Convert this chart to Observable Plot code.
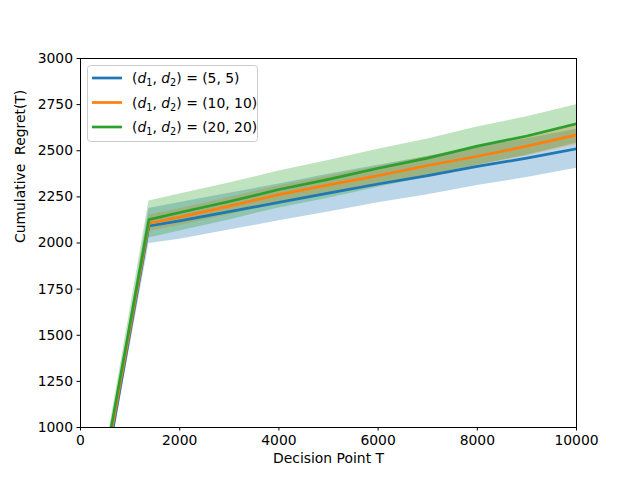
<!DOCTYPE html>
<html><head><meta charset="utf-8">
<script src="https://cdn.jsdelivr.net/npm/d3@7"></script>
<script src="https://cdn.jsdelivr.net/npm/@observablehq/plot@0.6"></script>
<style>body{margin:0;background:#fff} svg{font-family:"DejaVu Sans"}</style>
</head><body><div id="chart"></div>
<script>
const T = [0, 1380, 2000, 3000, 4000, 5000, 6000, 7000, 8000, 9000, 10000];
const blueMean   = [0,  2092, 2120, 2170, 2220, 2270, 2320, 2365, 2415, 2460, 2511];
const blueHalf   = [10,   95,  100,  100,  100,  102,  102,  104,  104,  105,  106];
const orangeMean = [45, 2107, 2140, 2200, 2262, 2315, 2365, 2420, 2470, 2525, 2586];
const orangeHalf = [10,   45,   45,   47,   48,   48,   50,   50,   50,   52,   52];
const greenMean  = [85, 2127, 2165, 2225, 2290, 2345, 2405, 2460, 2525, 2580, 2646];
const greenHalf  = [10,  100,  100,  100,  100,  102,  103,  104,  104,  104,  104];
const labels = ["(5, 5)", "(10, 10)", "(20, 20)"];
const colors = ["#1f77b4", "#ff7f0e", "#2ca02c"];
const xTicks = [0, 2000, 4000, 6000, 8000, 10000];
const yTicks = [1000, 1250, 1500, 1750, 2000, 2250, 2500, 2750, 3000];

const series = [
  {key: labels[0], mean: blueMean, half: blueHalf},
  {key: labels[1], mean: orangeMean, half: orangeHalf},
  {key: labels[2], mean: greenMean, half: greenHalf}
];
const rows = series.flatMap(s => T.map((t, i) => ({
  t, key: s.key, y: s.mean[i], lo: s.mean[i] - s.half[i], hi: s.mean[i] + s.half[i]
})));

const svg = Plot.plot({
  width: 640, height: 480,
  marginLeft: 80, marginRight: 64, marginTop: 58, marginBottom: 53,
  style: {fontFamily: "DejaVu Sans", fontSize: "13.9px", color: "black", background: "white"},
  x: {domain: [0, 10000]},
  y: {domain: [1000, 3000]},
  color: {domain: labels, range: colors},
  marks: [
    Plot.areaY(rows, {x: "t", y1: "lo", y2: "hi", z: "key", fill: "key", fillOpacity: 0.3, clip: true}),
    Plot.line(rows, {x: "t", y: "y", z: "key", stroke: "key", strokeWidth: 2.7, clip: true}),
    Plot.frame({stroke: "black", strokeWidth: 1}),
    Plot.axisX({ticks: xTicks, tickFormat: d => String(d), tickSize: 3.5, tickPadding: 4, label: null, fontSize: 13.9}),
    Plot.axisY({ticks: yTicks, tickFormat: d => String(d), tickSize: 3.5, tickPadding: 4, label: null, fontSize: 13.9}),
    Plot.text(["Decision Point T"], {frameAnchor: "bottom", dy: 35, fontSize: 13.9, fill: "black"}),
    Plot.text(["Cumulative\u00a0 Regret(T)"], {frameAnchor: "left", dx: -60, rotate: -90, fontSize: 13.9, fill: "black"})
  ]
});

// legend
const s = d3.select(svg);
const g = s.append("g").attr("font-family", "DejaVu Sans").attr("font-size", 13.9).attr("text-anchor", "start");
g.append("rect").attr("x", 87.5).attr("y", 65.5).attr("width", 170).attr("height", 76)
  .attr("rx", 3).attr("fill", "white").attr("fill-opacity", 0.8).attr("stroke", "#cccccc");
labels.forEach((lab, i) => {
  const cy = 78 + i * 24.5;
  g.append("line").attr("x1", 92).attr("x2", 122).attr("y1", cy).attr("y2", cy)
    .attr("stroke", colors[i]).attr("stroke-width", 2.7);
  const t = g.append("text").attr("x", 132).attr("y", cy).attr("dy", "0.36em")
    .attr("fill", "black").attr("text-anchor", "start");
  t.append("tspan").text("(");
  t.append("tspan").attr("font-style", "italic").text("d");
  t.append("tspan").attr("font-size", "70%").attr("dy", 3).text("1");
  t.append("tspan").attr("dy", -3).text(", ");
  t.append("tspan").attr("font-style", "italic").text("d");
  t.append("tspan").attr("font-size", "70%").attr("dy", 3).text("2");
  t.append("tspan").attr("dy", -3).text(") = " + lab);
});

document.getElementById("chart").appendChild(svg);
</script>
</body></html>
